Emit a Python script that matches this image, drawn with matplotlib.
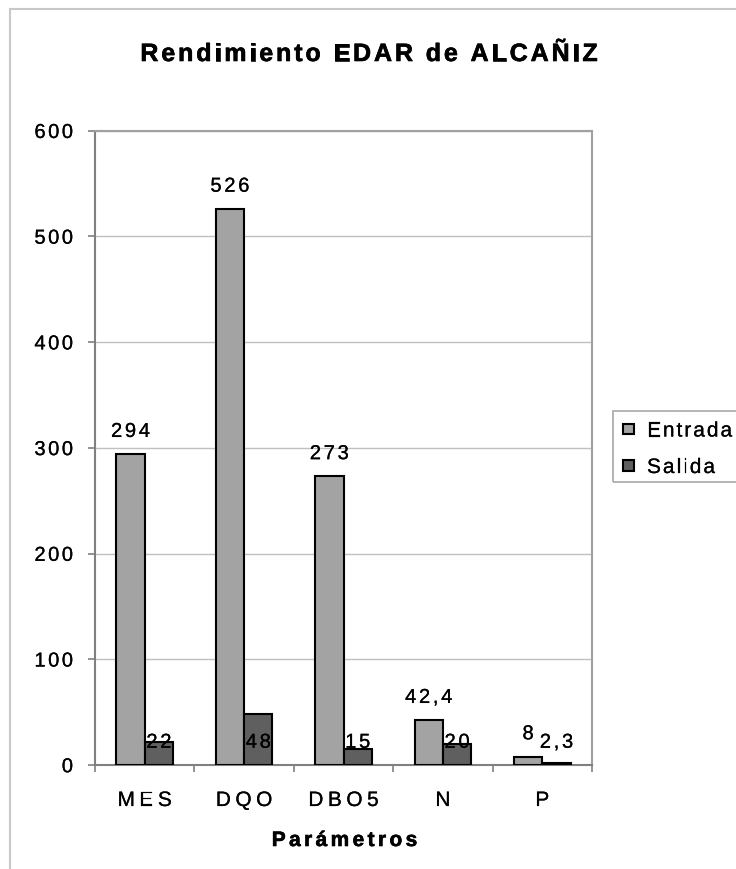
import matplotlib
matplotlib.use("Agg")
import matplotlib.pyplot as plt
import matplotlib.patheffects as pe
import numpy as np
from matplotlib.patches import Rectangle
from matplotlib.font_manager import FontProperties, findfont, get_font

# parametros medidos en la depuradora
parametros = ['MES', 'DQO', 'DBO5', 'N', 'P']
entrada = [294, 526, 273, 42.4, 8]
salida = [22, 48, 15, 20, 2.3]
etiq_entrada = ['294', '526', '273', '42,4', '8']
etiq_salida = ['22', '48', '15', '20', '2,3']
yticks = [0, 100, 200, 300, 400, 500, 600]

col_entrada = '#a3a3a3'
col_salida = '#5f5f5f'

fig = plt.figure(figsize=(7.36, 8.7), dpi=100)
W = 736.0
H = 870.0
ax = fig.add_axes([95/W, 1-766/H, (592-95)/W, (766-131.7)/H])

# trazo fino alrededor de las letras para engrosarlas un poco
trazo = {'normal': [pe.withStroke(linewidth=0.15, foreground='black')],
         'bold': [pe.withStroke(linewidth=0.45, foreground='black')]}


def tracked(s, xc, yc, size, track, ha='center', weight='normal'):
    # texto con espaciado entre letras; xc, yc en pixeles (origen abajo a la izquierda),
    # yc es el centro de las mayusculas
    prop = FontProperties(family='Liberation Sans', size=size, weight=weight)
    font = get_font(findfont(prop))
    font.set_size(size, fig.dpi)
    adv = [font.load_char(ord(c)).linearHoriAdvance / 65536.0 for c in s]
    total = sum(adv) + track*(len(s) - 1)
    if ha == 'center':
        x0 = xc - total/2
    elif ha == 'right':
        x0 = xc - total
    else:
        x0 = xc
    yb = yc - 0.72*size*fig.dpi/72/2
    for i, c in enumerate(s):
        if c != ' ':
            fig.text(x0/W, yb/H, c, fontproperties=prop, ha='left', va='baseline',
                     path_effects=trazo[weight])
        x0 += adv[i] + track


x = np.arange(len(parametros))
w = 0.2857
ax.bar(x - w/2, entrada, w, color=col_entrada, edgecolor='black', linewidth=1.5, zorder=3)
ax.bar(x + w/2, salida, w, color=col_salida, edgecolor='black', linewidth=1.5, zorder=3)

ax.set_xlim(-0.5, len(parametros) - 0.5)
ax.set_ylim(0, 600)
ax.set_yticks(yticks)
ax.yaxis.grid(True, color='#c0c0c0', linewidth=1)
ax.set_axisbelow(True)

ax.set_xticks(x)
ax.set_xticks(np.arange(-0.5, len(parametros)), minor=True)
ax.tick_params(axis='x', which='major', length=0, labelbottom=False)
ax.tick_params(axis='x', which='minor', length=5, color='#808080', width=1.2, direction='out')
ax.tick_params(axis='y', length=5, color='#808080', width=1.2, labelleft=False)

for s in ['left', 'bottom']:
    ax.spines[s].set_color('#808080')
    ax.spines[s].set_linewidth(1.5)
for s in ['top', 'right']:
    ax.spines[s].set_color('#a0a0a0')
    ax.spines[s].set_linewidth(1.5)

# etiquetas de los ejes
for v in yticks:
    px, py = ax.transData.transform((-0.5, v))
    tracked(str(v), 73, py, 14.5, 2.5, ha='right')
for i, p in enumerate(parametros):
    px, py = ax.transData.transform((x[i], 0))
    tracked(p, px, H - 799.5, 15, 4.5)

# valores encima de las barras
for i in range(len(parametros)):
    px, py = ax.transData.transform((x[i] - w/2, entrada[i]))
    tracked(etiq_entrada[i], px, py + 24.5, 14.5, 2.7)
    px, py = ax.transData.transform((x[i] + w/2, 0))
    tracked(etiq_salida[i], px, py + 24.5, 14.5, 2.7)

tracked('Parámetros', 344.5, H - 839.5, 15, 3.4, weight='bold')
tracked('Rendimiento EDAR de ALCAÑIZ', 369, H - 53, 18, 2.9, weight='bold')

# leyenda
fig.add_artist(Rectangle((613/W, 1-483/H), 200/W, 71/H, transform=fig.transFigure,
                         fill=False, edgecolor='#a8a8a8', linewidth=1.2))
for yc, col, lab in [(430, col_entrada, 'Entrada'), (466.5, col_salida, 'Salida')]:
    fig.add_artist(Rectangle((623/W, 1-(yc+5.2)/H), 10.5/W, 10.5/H, transform=fig.transFigure,
                             facecolor=col, edgecolor='black', linewidth=1.5))
    tracked(lab, 647, H - yc, 15, 2, ha='left')

# marco del grafico
fig.add_artist(Rectangle((10/W, -0.5), 2, 1.5 - 10/H, transform=fig.transFigure,
                         fill=False, edgecolor='#c8c8c8', linewidth=1.5))

fig.savefig('out.png', dpi=100)
